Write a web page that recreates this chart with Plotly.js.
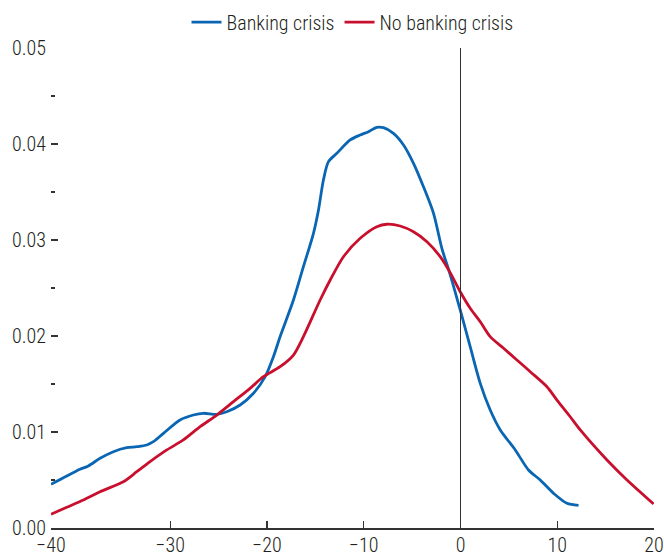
<!DOCTYPE html>
<html>
<head>
<meta charset="utf-8">
<script src="https://cdn.plot.ly/plotly-3.0.1.min.js"></script>
<style>html,body{margin:0;padding:0;background:#fff;}#chart{width:664px;height:555px;}</style>
</head>
<body>
<div id="chart"></div>
<script>
// Banking crisis density
const crisisX = [-42.33,-40.70,-39.33,-38.47,-37.26,-35.88,-34.50,-33.46,-32.43,-31.75,-30.71,-28.99,-27.61,-26.58,-25.19,-24.16,-22.78,-21.40,-20.19,-19.34,-18.65,-17.27,-16.24,-15.20,-14.68,-14.17,-13.65,-12.78,-11.41,-10.37,-9.51,-8.65,-7.96,-6.93,-5.89,-4.86,-3.83,-2.79,-1.92,-1.07,-0.03,1.00,2.04,3.07,4.11,5.66,7.03,8.24,9.62,11.00,12.20];
const crisisY = [0.00455,0.00542,0.00611,0.00646,0.00726,0.00795,0.00836,0.00847,0.00865,0.00899,0.00986,0.01125,0.01177,0.01195,0.01184,0.01211,0.01281,0.01403,0.01576,0.01784,0.01993,0.02375,0.02722,0.03070,0.03313,0.03625,0.03816,0.03903,0.04042,0.04094,0.04128,0.04174,0.04170,0.04111,0.03990,0.03799,0.03555,0.03278,0.02910,0.02640,0.02271,0.01889,0.01507,0.01229,0.01021,0.00813,0.00604,0.00500,0.00361,0.00257,0.00236];
// No banking crisis density
const noCrisisX = [-42.33,-40.70,-38.99,-37.26,-34.85,-33.46,-32.09,-30.36,-28.65,-26.92,-25.19,-23.47,-21.75,-20.37,-18.65,-17.27,-16.24,-14.51,-13.47,-12.10,-10.37,-8.65,-7.61,-6.24,-4.86,-3.47,-2.10,-1.07,-0.03,1.00,2.04,3.07,4.45,5.83,7.21,8.93,9.97,11.34,12.38,15.14,17.21,19.96];
const noCrisisY = [0.00143,0.00216,0.00292,0.00378,0.00482,0.00586,0.00691,0.00813,0.00917,0.01055,0.01177,0.01316,0.01455,0.01576,0.01680,0.01802,0.01993,0.02375,0.02583,0.02826,0.03018,0.03139,0.03164,0.03146,0.03086,0.02982,0.02826,0.02660,0.02461,0.02289,0.02149,0.01993,0.01872,0.01750,0.01628,0.01472,0.01333,0.01159,0.01021,0.00708,0.00500,0.00250];
// Axis ticks (the leftmost "−40" tick sits at the axis start in the original)
const xTickVals = [-42.33,-30,-20,-10,0,10,20];
const xTickText = ['\u221240','\u221230','\u221220','\u221210','0','10','20'];
const yTickVals = [0,0.01,0.02,0.03,0.04,0.05];
const yTickText = ['0.00','0.01','0.02','0.03','0.04','0.05'];

const FONT = 'Roboto Condensed, Liberation Sans Narrow, Arial Narrow, sans-serif';

const traces = [
  {x: crisisX, y: crisisY, name: 'Banking crisis', mode: 'lines', type: 'scatter',
   line: {color: '#0a66b2', width: 2.8, shape: 'spline', smoothing: 0.8}},
  {x: noCrisisX, y: noCrisisY, name: 'No banking crisis', mode: 'lines', type: 'scatter',
   line: {color: '#c8102e', width: 2.8, shape: 'spline', smoothing: 0.8}}
];

const layout = {
  width: 664, height: 555,
  margin: {l: 51, r: 10, t: 48, b: 27, autoexpand: false},
  paper_bgcolor: '#fff', plot_bgcolor: '#fff',
  font: {family: FONT, size: 20, color: '#231f20', weight: 300},
  showlegend: true,
  legend: {orientation: 'h', x: 0.5, xanchor: 'center', y: 1.054, yanchor: 'middle',
           font: {family: FONT, size: 20, color: '#231f20', weight: 300}, itemwidth: 30, traceorder: 'normal'},
  xaxis: {range: [-42.33, 20], tickvals: xTickVals, ticktext: xTickText,
          showgrid: false, zeroline: false, showline: true, linecolor: '#333', linewidth: 1.5,
          ticks: 'inside', ticklen: 7, tickcolor: '#333', tickwidth: 1.2,
          ticklabelstandoff: -2,
          tickfont: {family: FONT, size: 20, color: '#231f20', weight: 300}},
  yaxis: {range: [0, 0.05], tickvals: yTickVals, ticktext: yTickText,
          showgrid: false, zeroline: false, showline: false,
          ticks: 'inside', ticklen: 7, tickcolor: '#333', tickwidth: 1.2,
          ticklabelstandoff: 4,
          minor: {ticks: 'inside', ticklen: 4, tickcolor: '#333', tickwidth: 1.2, dtick: 0.005, tick0: 0, showgrid: false},
          tickfont: {family: FONT, size: 20, color: '#231f20', weight: 300}},
  shapes: [{type: 'line', xref: 'x', yref: 'y', x0: 0, x1: 0, y0: 0, y1: 0.05,
            line: {color: '#333', width: 1}}]
};

Plotly.newPlot('chart', traces, layout, {displayModeBar: false, staticPlot: true});
</script>
</body>
</html>
